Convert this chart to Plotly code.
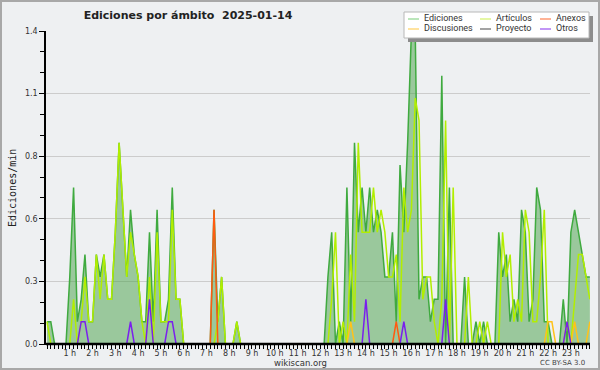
import plotly.graph_objects as go

# ---------------- data (10-minute bins, edits per minute) ----------------
minutes = list(range(0, 1440, 10))

ediciones = [
    0.1, 0.1, 0, 0, 0, 0, 0.3, 0.7, 0.1, 0.2, 0.4, 0.1,          # 0h-2h
    0.1, 0.4, 0.3, 0.4, 0.2, 0.2, 0.5, 0.9, 0.6, 0.3, 0.6, 0.4,  # 2h-4h
    0.3, 0.1, 0.1, 0.5, 0.1, 0.6, 0.1, 0.1, 0.2, 0.7, 0.2, 0.2,  # 4h-6h
    0, 0, 0, 0, 0, 0, 0, 0, 0.6, 0.1, 0.3, 0,                    # 6h-8h
    0, 0, 0.1, 0, 0, 0, 0, 0, 0, 0, 0, 0,                        # 8h-10h
    0, 0, 0, 0, 0, 0, 0, 0, 0, 0, 0, 0,                          # 10h-12h
    0, 0, 0.3, 0.5, 0, 0.1, 0, 0.7, 0.1, 0.9, 0.5, 0.7,          # 12h-14h
    0.5, 0.7, 0.5, 0.6, 0.5, 0.3, 0.3, 0.5, 0.1, 0.8, 0.5, 0.9,  # 14h-16h
    1.4, 1.4, 0.2, 0.3, 0.3, 0.1, 0.2, 0.2, 1.2, 0, 0.7, 0,      # 16h-18h
    0, 0, 0.3, 0, 0, 0.1, 0, 0.1, 0, 0, 0, 0.5,                  # 18h-20h
    0.3, 0.4, 0.1, 0.2, 0.1, 0.6, 0.5, 0.1, 0.2, 0.7, 0.6, 0.1,  # 20h-22h
    0.1, 0, 0, 0, 0.2, 0, 0.5, 0.6, 0.5, 0.4, 0.3, 0.3,          # 22h-24h
][:144]

articulos = [
    0.1, 0, 0, 0, 0, 0, 0, 0.2, 0, 0.1, 0.3, 0.1,
    0.1, 0.4, 0.2, 0.4, 0.2, 0.2, 0.5, 0.9, 0.6, 0.3, 0.5, 0.4,
    0.3, 0.1, 0, 0.3, 0, 0.5, 0.1, 0.1, 0.1, 0.6, 0.2, 0.2,
    0, 0, 0, 0, 0, 0, 0, 0, 0, 0.1, 0.3, 0,
    0, 0, 0.1, 0, 0, 0, 0, 0, 0, 0, 0, 0,
    0, 0, 0, 0, 0, 0, 0, 0, 0, 0, 0, 0,
    0, 0, 0, 0.2, 0.5, 0, 0.1, 0, 0.4, 0.1, 0.9, 0.5,
    0.5, 0.5, 0.7, 0.5, 0.6, 0.5, 0.3, 0.3, 0.4, 0.1, 0.7, 0.5,
    0.6, 1.1, 1.0, 0.2, 0.3, 0.3, 0.1, 0, 0.2, 1.0, 0, 0.7,
    0, 0, 0, 0.3, 0, 0, 0.1, 0, 0.1, 0, 0, 0,
    0.5, 0.3, 0.4, 0.1, 0.2, 0.1, 0.6, 0.5, 0.1, 0.1, 0.3, 0.6,
    0, 0, 0, 0, 0, 0.1, 0, 0.2, 0.4, 0.4, 0.3, 0.2,
]

# sparse series: {bin index: value}
anexos_pts = {44: 0.6, 92: 0.1}
discusiones_pts = {80: 0.1, 132: 0.1, 133: 0.1, 139: 0.1, 143: 0.1}
otros_pts = {9: 0.1, 10: 0.1, 22: 0.1, 27: 0.2, 32: 0.1, 33: 0.1,
             84: 0.2, 94: 0.1, 105: 0.2, 137: 0.1}
proyecto_pts = {}

anexos = [anexos_pts.get(i, 0) for i in range(144)]
discusiones = [discusiones_pts.get(i, 0) for i in range(144)]
otros = [otros_pts.get(i, 0) for i in range(144)]
proyecto = [proyecto_pts.get(i, 0) for i in range(144)]

hour_ticks = list(range(1, 24))
hour_labels = [f"{h} h" for h in hour_ticks]
y_ticks = [0, 0.28, 0.56, 0.84, 1.12, 1.4]
y_labels = ["0.0", "0.3", "0.6", "0.8", "1.1", "1.4"]

title_text = "Ediciones por ámbito\u00a0 2025-01-14"

# ---------------- styling ----------------
BG = "#eef0f2"
FONT = "DejaVu Sans"
colors = {
    "Ediciones": "#3faa3f",
    "Artículos": "#b2ee00",
    "Anexos": "#ff5a10",
    "Discusiones": "#ffc21a",
    "Proyecto": "#555555",
    "Otros": "#7a1fee",
}
legend_colors = {
    "Ediciones": "#8ed68e",
    "Artículos": "#d4f26a",
    "Anexos": "#ff8050",
    "Discusiones": "#ffd060",
    "Proyecto": "#666666",
    "Otros": "#9a50f0",
}

L, R, T, B = 46, 10, 31, 26
W, H = 600, 370
PW, PH = W - L - R, H - T - B


def px(x):
    return (x - L) / PW


def py(y):
    return (H - B - y) / PH


x_hours = [m / 60 for m in minutes]

fig = go.Figure()
fig.add_trace(go.Scatter(
    x=x_hours, y=ediciones, mode="lines", name="Ediciones",
    line=dict(color=colors["Ediciones"], width=1.5),
    fill="tozeroy", fillcolor="rgba(70,160,70,0.5)"))
for name, vals in [("Artículos", articulos), ("Proyecto", proyecto),
                   ("Discusiones", discusiones), ("Anexos", anexos),
                   ("Otros", otros)]:
    fig.add_trace(go.Scatter(
        x=x_hours, y=vals, mode="lines", name=name,
        line=dict(color=colors[name], width=1.5)))

shapes = []
annotations = []

# baseline cover (axis line drawn over zero-valued segments)
shapes.append(dict(type="line", xref="paper", yref="paper",
                   x0=0, x1=1, y0=0, y1=0,
                   line=dict(color="black", width=2.5), layer="above"))

# outer image border
shapes.append(dict(type="rect", xref="paper", yref="paper",
                   x0=px(1), x1=px(599), y0=py(369), y1=py(1),
                   line=dict(color="#a8a8a8", width=2), fillcolor="rgba(0,0,0,0)",
                   layer="above"))

# legend box with shadow
shapes.append(dict(type="rect", xref="paper", yref="paper",
                   x0=px(408), x1=px(593), y0=py(42), y1=py(16),
                   line=dict(width=0), fillcolor="#8c8c8c", layer="above"))
shapes.append(dict(type="rect", xref="paper", yref="paper",
                   x0=px(404), x1=px(589), y0=py(38), y1=py(12),
                   line=dict(color="#b8b8b8", width=1), fillcolor="white",
                   layer="above"))

legend_layout = [
    ("Ediciones", 408, 19), ("Artículos", 480, 19), ("Anexos", 540, 19),
    ("Discusiones", 408, 29), ("Proyecto", 480, 29), ("Otros", 540, 29),
]
for name, lx, ly in legend_layout:
    shapes.append(dict(type="line", xref="paper", yref="paper",
                       x0=px(lx), x1=px(lx + 11), y0=py(ly), y1=py(ly),
                       line=dict(color=legend_colors[name], width=1.2),
                       layer="above"))
    annotations.append(dict(text=name, xref="paper", yref="paper",
                            x=px(lx + 14), y=py(ly - 0.5), xanchor="left",
                            yanchor="middle", showarrow=False,
                            font=dict(family="Roboto", size=9, color="#333333")))

# y-axis title
annotations.append(dict(text="Ediciones/min", xref="paper", yref="paper",
                        x=px(12), y=py(188), textangle=-90, showarrow=False,
                        xanchor="center", yanchor="middle",
                        font=dict(family="DejaVu Sans Mono", size=10, color="#222222")))
# footer
annotations.append(dict(text="wikiscan.org", xref="paper", yref="paper",
                        x=px(300), y=py(362.5), showarrow=False,
                        xanchor="center", yanchor="middle",
                        font=dict(family=FONT, size=8.5, color="#333333")))
annotations.append(dict(text="CC BY-SA 3.0", xref="paper", yref="paper",
                        x=px(562), y=py(363), showarrow=False,
                        xanchor="center", yanchor="middle",
                        font=dict(family=FONT, size=7, color="#444444")))

fig.update_layout(
    width=W, height=H,
    margin=dict(l=L, r=R, t=T, b=B, pad=0),
    paper_bgcolor=BG, plot_bgcolor=BG,
    showlegend=False,
    title=dict(text=title_text, x=188 / W, xanchor="center",
               y=1 - 15 / H, yanchor="middle", xref="container", yref="container",
               font=dict(family=FONT, size=11, color="#222222", weight="bold")),
    shapes=shapes, annotations=annotations,
    xaxis=dict(range=[-0.044, 23.84], tickvals=hour_ticks, ticktext=hour_labels,
               ticks="outside", ticklen=4, tickcolor="black", tickwidth=1,
               ticklabelstandoff=-3,
               showline=True, linecolor="black", linewidth=1,
               showgrid=False, zeroline=False,
               tickfont=dict(family=FONT, size=8, color="#333333"),
               minor=dict(tick0=0, dtick=1 / 6, ticks="outside", ticklen=4,
                          tickcolor="black", showgrid=False)),
    yaxis=dict(range=[0, 1.4], tickvals=y_ticks, ticktext=y_labels,
               ticks="outside", ticklen=5, tickcolor="black", tickwidth=1,
               showline=True, linecolor="black", linewidth=1.5,
               showgrid=True, gridcolor="#cccccc", gridwidth=1, zeroline=False,
               tickfont=dict(family=FONT, size=8, color="#333333"),
               minor=dict(tick0=0, dtick=1.4 / 15, ticks="outside", ticklen=4,
                          tickcolor="black", showgrid=False)),
)

fig.write_html("out.html",
               config={"displayModeBar": False},
               post_script="document.body.style.margin='0';"
                           "document.body.style.padding='0';"
                           "document.body.style.overflow='hidden';")
